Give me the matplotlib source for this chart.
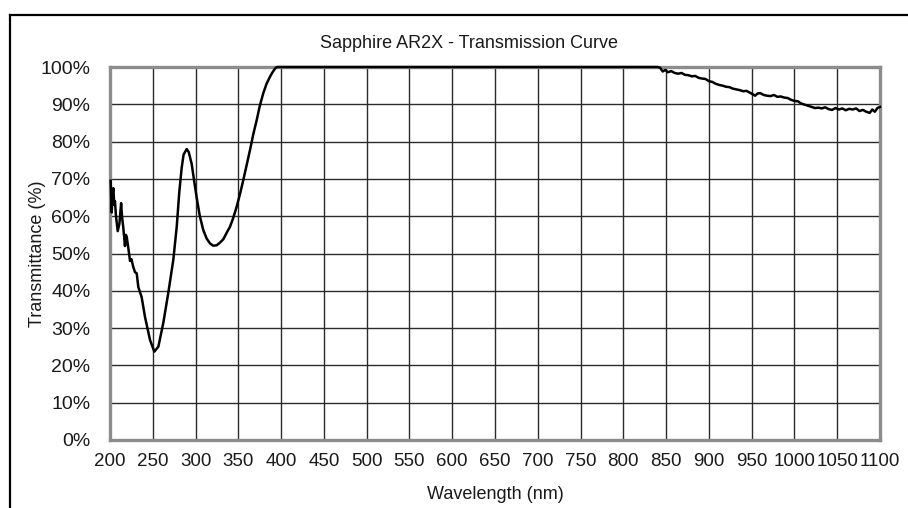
import matplotlib
matplotlib.use("Agg")
import matplotlib.pyplot as plt
from matplotlib.lines import Line2D

plt.rcParams['font.family'] = ['Liberation Sans', 'DejaVu Sans']

title = "Sapphire AR2X - Transmission Curve"
x_label = "Wavelength (nm)"
y_label = "Transmittance (%)"

x_ticks = list(range(200, 1101, 50))
y_ticks = list(range(0, 101, 10))
y_tick_labels = [f"{v}%" for v in y_ticks]

wavelength_uv = [200.8, 201.5, 202, 203, 203.9, 205, 205.8, 207, 209, 211, 213, 214,
                 215.5, 217.5, 218.5, 219.5, 221.4, 223.4, 225, 227.2, 229.2, 231.2,
                 233.1, 237, 240.9, 246.8, 251.8, 256.5, 262.3, 268.1, 274, 278, 281,
                 283.8, 286, 289.6, 292, 295.5, 298, 301.3, 305, 309, 313, 316.9,
                 320.5, 324.7, 328, 332.4, 336, 340.3, 344, 348, 352, 355.8, 360,
                 363.6, 367.5, 371.5, 375, 379.2, 383, 387, 390, 393, 395]
transmit_uv = [69.5, 65, 61, 66, 67.5, 63, 64, 60, 56, 58, 63.5, 60,
               57, 52, 55, 54.5, 51.5, 48, 48.5, 46.4, 45, 44.7,
               41, 38.3, 33, 26.8, 23.7, 25, 31.4, 39.4, 48.3, 57.2, 66.5,
               73, 76.5, 78, 77.2, 74, 70, 65, 60, 56.3, 54, 52.7,
               52.1, 52.2, 52.8, 53.8, 55.4, 57.2, 59.5, 62.5, 66, 69.7, 74,
               77.7, 82, 85.8, 89.5, 93, 95.5, 97.4, 98.6, 99.6, 100]

wavelength_vis = [500, 600, 700, 800, 840]
transmit_vis = [100, 100, 100, 100, 100]

wavelength_ir = [843, 846, 849, 852, 856, 860, 864, 868, 872, 876, 880, 884, 888,
                 892, 896, 900, 904, 908, 912, 916, 920, 924, 928, 932, 936, 940,
                 944, 948, 952, 954, 957, 960, 964, 968, 972, 976, 980, 984, 988,
                 992, 996, 1000, 1004, 1008, 1012, 1016, 1020, 1024, 1028, 1032,
                 1036, 1040, 1044, 1048, 1052, 1056, 1060, 1064, 1068, 1072, 1076,
                 1080, 1084, 1088, 1091, 1094, 1097, 1100]
transmit_ir = [99.8, 98.8, 99.2, 98.6, 98.9, 98.4, 98.2, 98.4, 97.9, 97.8, 97.5, 97.6,
               97.1, 96.9, 96.8, 96.2, 96.0, 95.5, 95.2, 95.0, 94.7, 94.6, 94.2, 94.0,
               93.8, 93.5, 93.6, 93.1, 92.6, 92.3, 92.9, 93.0, 92.5, 92.3, 92.2, 92.5,
               92.0, 92.1, 91.8, 91.7, 91.2, 90.9, 90.8, 90.2, 89.9, 89.6, 89.3, 89.0,
               89.1, 88.9, 89.2, 88.7, 88.5, 89.0, 88.6, 88.9, 88.4, 88.8, 88.6, 88.9,
               88.2, 88.5, 88.0, 87.7, 88.6, 88.0, 89.0, 89.3]

wavelength = wavelength_uv + wavelength_vis + wavelength_ir
transmit = transmit_uv + transmit_vis + transmit_ir

fig = plt.figure(figsize=(9.08, 5.08), dpi=100)
fig.patch.set_facecolor('white')

# outer frame (top and left edges visible)
fig.add_artist(Line2D([9.5 / 908, 1.0], [1 - 15 / 508, 1 - 15 / 508], color='black', lw=1.6,
                      transform=fig.transFigure))
fig.add_artist(Line2D([9.5 / 908, 9.5 / 908], [0.0, 1 - 15 / 508], color='black', lw=1.6,
                      transform=fig.transFigure))

ax = fig.add_axes([110 / 908, 1 - 440 / 508, (880 - 110) / 908, (440 - 67) / 508])
ax.set_xlim(200, 1100)
ax.set_ylim(0, 100)
ax.set_xticks(x_ticks)
ax.set_yticks(y_ticks)
ax.set_yticklabels(y_tick_labels)
ax.grid(True, color='#2a2a2a', lw=1.0)
ax.set_axisbelow(True)
for s in ax.spines.values():
    s.set_color('#8c8c8c')
    s.set_linewidth(2.4)
ax.tick_params(length=0, colors='#1a1a1a')
ax.tick_params(axis='y', pad=14, labelsize=14)
ax.tick_params(axis='x', pad=9, labelsize=13.5)

ax.plot(wavelength, transmit, color='black', lw=1.8, clip_on=False, zorder=3)

ax.set_xlabel(x_label, fontsize=13, color='#1a1a1a')
ax.set_ylabel(y_label, fontsize=13, color='#1a1a1a')
ax.xaxis.set_label_coords(0.5, (440 - 486) / 373)
ax.yaxis.set_label_coords((46 - 110) / 770, 0.5)
fig.text(469 / 908, 1 - 43 / 508, title, ha='center', va='center', fontsize=13, color='#1a1a1a')

fig.savefig("out.png", dpi=100)
